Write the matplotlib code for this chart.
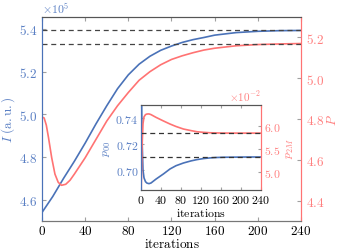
import matplotlib
matplotlib.use("Agg")
import matplotlib.pyplot as plt
from matplotlib.ticker import FuncFormatter

plt.rcParams['font.family'] = 'serif'
plt.rcParams['font.serif'] = ['DejaVu Serif']
plt.rcParams['mathtext.fontset'] = 'cm'

# main panel: intensity (x1e5) and P
it_I = [0, 10, 20, 30, 40, 50, 60, 70, 80, 90, 100, 110, 120, 130, 140, 150, 160, 180, 200, 220, 240]
I_val = [4.54, 4.615, 4.70, 4.78, 4.865, 4.955, 5.04, 5.12, 5.185, 5.235, 5.272, 5.30, 5.32, 5.337,
         5.35, 5.36, 5.371, 5.383, 5.389, 5.392, 5.393]
it_P = [0, 2, 4, 6, 9, 12, 15, 18, 22, 26, 30, 40, 50, 60, 70, 80, 90, 100, 110, 120, 130, 140,
        150, 160, 180, 200, 220, 240]
P_val = [4.81, 4.805, 4.77, 4.71, 4.61, 4.53, 4.49, 4.475, 4.48, 4.50, 4.53, 4.61, 4.70, 4.79,
         4.865, 4.93, 4.99, 5.032, 5.066, 5.092, 5.11, 5.125, 5.138, 5.147, 5.159, 5.165, 5.168, 5.17]
I_final = 5.393
P_final = 5.17

# inset: p00 and p2M (x1e-2)
it_in = [0, 2, 4, 6, 9, 12, 16, 20, 30, 45, 58, 70, 85, 100, 112, 125, 138, 150, 165, 190, 215, 240]
p00 = [0.80, 0.725, 0.700, 0.694, 0.691, 0.6899, 0.6895, 0.690, 0.693, 0.697, 0.7008, 0.7033,
       0.7054, 0.707, 0.708, 0.7088, 0.7093, 0.7096, 0.7098, 0.7099, 0.710, 0.710]
p2M = [4.3, 5.5, 6.05, 6.20, 6.25, 6.263, 6.265, 6.25, 6.19, 6.11, 6.044, 5.99, 5.934, 5.90,
       5.875, 5.862, 5.853, 5.849, 5.846, 5.845, 5.845, 5.845]
p00_final = 0.710
p2M_final = 5.845

blue = '#4a72b8'
blue_txt = '#5b80c4'
red = '#ff7373'
red_txt = '#ff8080'
gray_tick = '#a0a0a0'

fmt1 = FuncFormatter(lambda v, p: r'$%.1f$' % v)
fmt2 = FuncFormatter(lambda v, p: r'$%.2f$' % v)
fmt0 = FuncFormatter(lambda v, p: r'$%d$' % v)

fig = plt.figure(figsize=(3.4, 2.53), dpi=100)
ax = fig.add_axes([0.1235, 0.1225, 0.7618, 0.8063])
ax2 = ax.twinx()

ax.plot(it_I, I_val, color=blue, lw=1.2)
ax.axhline(I_final, color='#444444', lw=0.9, ls=(0, (4, 3)))
ax2.plot(it_P, P_val, color=red, lw=1.2)
ax2.axhline(P_final, color='#444444', lw=0.9, ls=(0, (4, 3)))

ax.set_xlim(0, 240)
ax.set_ylim(4.5, 5.456)
ax2.set_ylim(4.3, 5.3)
ax.set_xticks([0, 40, 80, 120, 160, 200, 240])
ax.set_yticks([4.6, 4.8, 5.0, 5.2, 5.4])
ax2.set_yticks([4.4, 4.6, 4.8, 5.0, 5.2])
ax.xaxis.set_major_formatter(fmt0)
ax.yaxis.set_major_formatter(fmt1)
ax2.yaxis.set_major_formatter(fmt1)

ax.tick_params(axis='x', direction='in', top=True, length=3, color=gray_tick, labelsize=9.5, pad=2)
ax.tick_params(axis='y', direction='in', length=3, color=gray_tick, labelsize=9.5, labelcolor=blue_txt)
ax2.tick_params(axis='y', direction='in', length=3, color=gray_tick, labelsize=9.5, labelcolor=red_txt)

for a in (ax, ax2):
    a.spines['top'].set_color('#555555')
    a.spines['bottom'].set_color('#777777')
    a.spines['left'].set_color(blue)
    a.spines['right'].set_color(red)

ax.set_xlabel(r'$\mathrm{iterations}$', fontsize=9.5, labelpad=0)
ax.set_ylabel(r'$I\ \mathrm{(a.u.)}$', fontsize=9.5, color=blue_txt, labelpad=1)
ax2.set_ylabel(r'$P$', fontsize=9.5, color=red_txt, labelpad=1)
ax.text(0.0, 1.005, r'$\times10^{5}$', transform=ax.transAxes, fontsize=8.5, color=blue_txt,
        ha='left', va='bottom')

# inset
ins = fig.add_axes([0.4147, 0.245, 0.353, 0.336])
ins2 = ins.twinx()
ins.set_facecolor('white')
ins.plot(it_in, p00, color=blue, lw=1.2)
ins.axhline(p00_final, color='#333333', lw=0.9, ls=(0, (4, 3)))
ins2.plot(it_in, p2M, color=red, lw=1.2)
ins2.axhline(p2M_final, color='#333333', lw=0.9, ls=(0, (4, 3)))

ins.set_xlim(0, 240)
ins.set_ylim(0.6846, 0.75)
ins2.set_ylim(4.6, 6.46)
ins.set_xticks([0, 40, 80, 120, 160, 200, 240])
ins.set_yticks([0.70, 0.72, 0.74])
ins2.set_yticks([5.0, 5.5, 6.0])
ins.xaxis.set_major_formatter(fmt0)
ins.yaxis.set_major_formatter(fmt2)
ins2.yaxis.set_major_formatter(fmt1)
ins.tick_params(axis='x', direction='in', top=True, length=2.5, color=gray_tick, labelsize=8.5, pad=2)
ins.tick_params(axis='y', direction='in', length=2.5, color=gray_tick, labelsize=8.5, labelcolor=blue_txt, pad=2)
ins2.tick_params(axis='y', direction='in', length=2.5, color=gray_tick, labelsize=8.5, labelcolor=red_txt, pad=2)
for a in (ins, ins2):
    a.spines['top'].set_color('#555555')
    a.spines['bottom'].set_color('#555555')
    a.spines['left'].set_color(blue)
    a.spines['right'].set_color(red)
ins.set_xlabel(r'$\mathrm{iterations}$', fontsize=8.5, labelpad=0)
ins.set_ylabel(r'$p_{00}$', fontsize=8.5, color=blue_txt, labelpad=2)
ins2.set_ylabel(r'$p_{2M}$', fontsize=8.5, color=red_txt, labelpad=2)
ins2.text(1.0, 1.02, r'$\times10^{-2}$', transform=ins2.transAxes, fontsize=8, color=red_txt,
          ha='right', va='bottom')

fig.savefig('out.png', dpi=100)
